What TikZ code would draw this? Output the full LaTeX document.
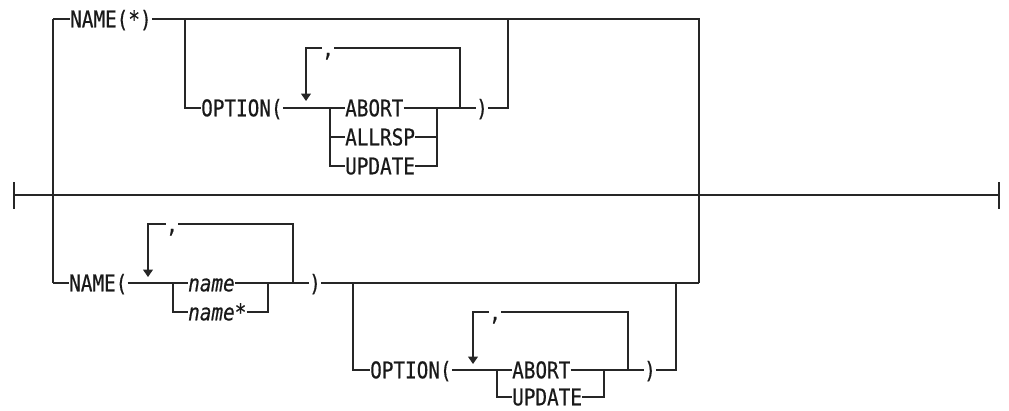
\documentclass[tikz,border=0pt]{standalone}
\usepackage{fontspec}
\newfontfamily\rrfont[FakeStretch=0.84,FakeBold=0.5]{DejaVu Sans Mono}
\usetikzlibrary{arrows.meta}
\begin{document}
\begin{tikzpicture}[x=1pt,y=-1pt,
  rr/.style={line width=1.2pt, draw=black!85},
  kw/.style={font=\rrfont\fontsize{23}{26}\selectfont, inner sep=0pt, text height=16.6pt, text depth=0pt, anchor=west, text=black!90},
  var/.style={kw, font=\rrfont\itshape\fontsize{23}{26}\selectfont},
  sepk/.style={kw, anchor=center},
  rep/.style={rr, -{Triangle[width=10pt,length=7.5pt]}}]
\useasboundingbox (0,0) rectangle (1009,410);
% main line
\coordinate (s) at (14,195);
\coordinate (e) at (999,195);
\draw[rr] (s) -- (e);
\draw[rr] ([yshift=13pt]s) -- ([yshift=-14pt]s);
\draw[rr] ([yshift=13pt]e) -- ([yshift=-14pt]e);
% junctions
\coordinate (jTL) at (53,19);
\coordinate (jBL) at (53,283);
\coordinate (jTR) at (699,19);
\coordinate (jBR) at (699,283);
\draw[rr] (jTL) -- (jBL);
% ---------- top branch ----------
\node[kw] (n1) at (70,19) {NAME(*)};
\draw[rr] (jTL) -- (n1.west);
\draw[rr] (n1.east) -- (jTR) -- (jBR);
\coordinate (t1) at (185,19);
\coordinate (t2) at (185,108);
\node[kw] (o1) at (201,108) {OPTION(};
\draw[rr] (t1) -- (t2) -- (o1.west);
\coordinate (s1) at (330,108);
\node[kw] (a1) at (345,108) {ABORT};
\node[kw] (a2) at (345,137) {ALLRSP};
\node[kw] (a3) at (345,166) {UPDATE};
\coordinate (r1) at (437,108);
\node[kw] (c1) at (476,108) {)};
\draw[rr] (o1.east) -- (s1) -- (a1.west);
\draw[rr] (s1 |- a2) -- (a2.west);
\draw[rr] (s1) |- (a3.west);
\draw[rr] (a1.east) -- (r1) -- (c1.west);
\draw[rr] (a2.east) -- (r1 |- a2);
\draw[rr] (a3.east) -| (r1);
\coordinate (l1) at (460,108);
\coordinate (l1t) at (460,48);
\node[sepk] (k1) at (328,48) {,};
\coordinate (ar1) at (306,101);
\draw[rr] (l1) -- (l1t) -- (k1.east);
\draw[rep] (k1.west) -| (ar1);
\coordinate (t3) at (508,108);
\coordinate (t4) at (508,19);
\draw[rr] (c1.east) -- (t3) -- (t4);
% ---------- bottom branch ----------
\node[kw] (n2) at (69,283) {NAME(};
\draw[rr] (jBL) -- (n2.west);
\coordinate (s2) at (173,283);
\node[var] (b1) at (188,283) {name};
\node[var] (b2) at (188,312) {name*};
\coordinate (r2) at (268,283);
\node[kw] (c2) at (309,283) {)};
\draw[rr] (n2.east) -- (s2) -- (b1.west);
\draw[rr] (s2) |- (b2.west);
\draw[rr] (b1.east) -- (r2) -- (c2.west);
\draw[rr] (b2.east) -| (r2);
\coordinate (l2) at (293,283);
\coordinate (l2t) at (293,224);
\node[sepk] (k2) at (172,224) {,};
\coordinate (ar2) at (148,277);
\draw[rr] (l2) -- (l2t) -- (k2.east);
\draw[rep] (k2.west) -| (ar2);
\draw[rr] (c2.east) -- (jBR);
% second option
\coordinate (u1) at (353,283);
\coordinate (u2) at (353,370);
\node[kw] (o2) at (370,370) {OPTION(};
\draw[rr] (u1) -- (u2) -- (o2.west);
\coordinate (s3) at (497,370);
\node[kw] (d1) at (512,370) {ABORT};
\node[kw] (d2) at (512,397) {UPDATE};
\coordinate (r3) at (604,370);
\node[kw] (c3) at (644,370) {)};
\draw[rr] (o2.east) -- (s3) -- (d1.west);
\draw[rr] (s3) |- (d2.west);
\draw[rr] (d1.east) -- (r3) -- (c3.west);
\draw[rr] (d2.east) -| (r3);
\coordinate (l3) at (628,370);
\coordinate (l3t) at (628,312);
\node[sepk] (k3) at (495,312) {,};
\coordinate (ar3) at (473,364);
\draw[rr] (l3) -- (l3t) -- (k3.east);
\draw[rep] (k3.west) -| (ar3);
\coordinate (u3) at (676,370);
\coordinate (u4) at (676,283);
\draw[rr] (c3.east) -- (u3) -- (u4);
\end{tikzpicture}
\end{document}
